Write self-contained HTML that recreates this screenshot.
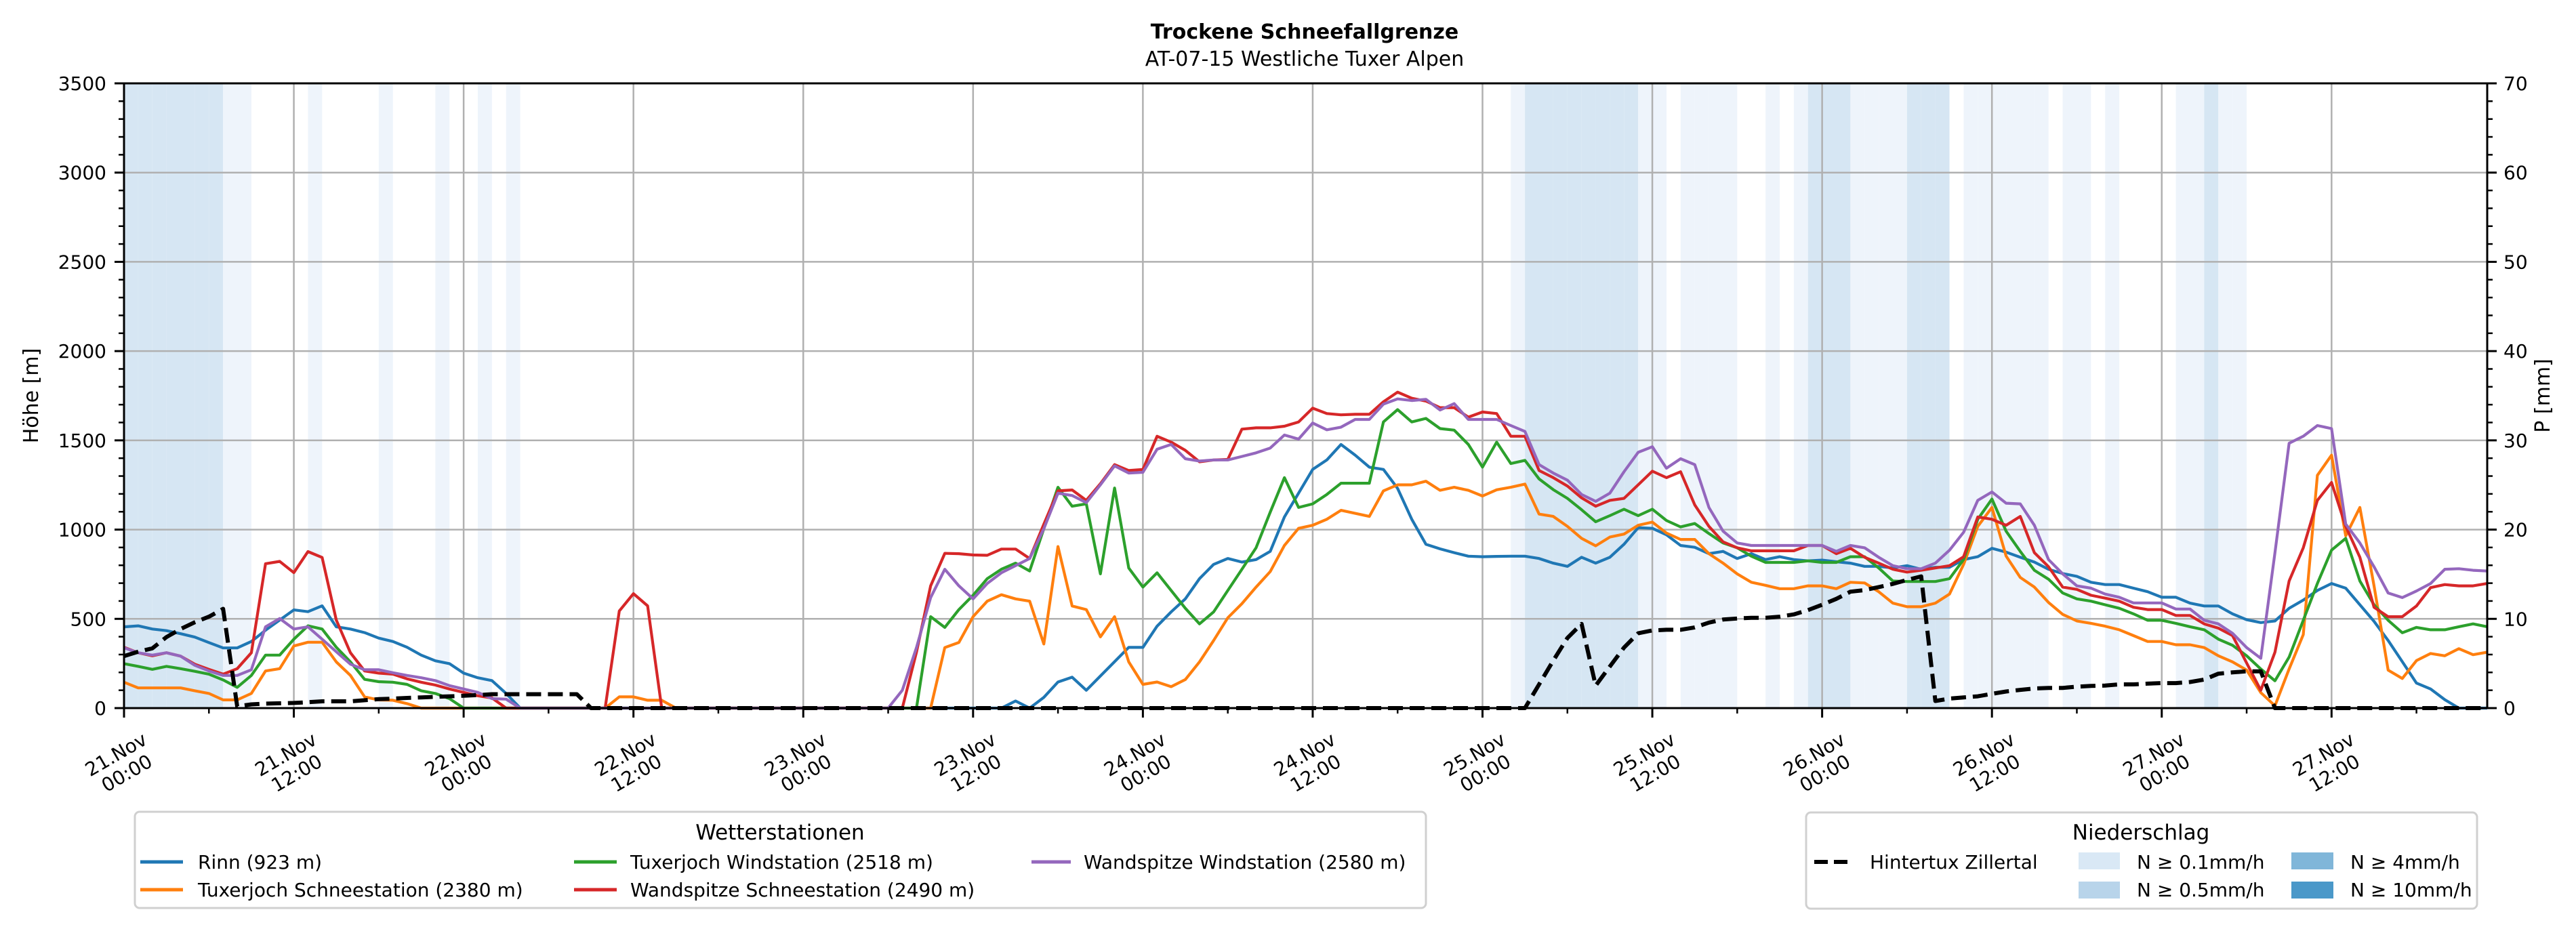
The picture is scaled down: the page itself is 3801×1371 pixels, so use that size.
<!DOCTYPE html>
<html><head><meta charset="utf-8"><style>
html,body{margin:0;padding:0;background:#fff;}
svg{display:block;font-family:"DejaVu Sans","Liberation Sans",sans-serif;}
</style></head><body>
<svg id="chart" width="3801" height="1371" viewBox="0 0 3801 1371" xmlns="http://www.w3.org/2000/svg">
<rect x="0" y="0" width="3801" height="1371" fill="#fff"/>
<text x="1925" y="57" text-anchor="middle" font-size="30" font-weight="bold">Trockene Schneefallgrenze</text>
<text x="1925" y="97" text-anchor="middle" font-size="30">AT-07-15 Westliche Tuxer Alpen</text>
<g id="bands"></g><g id="grid"></g><g id="series"></g><g id="axes"></g>
<text transform="translate(56,584) rotate(-90)" text-anchor="middle" font-size="30">Höhe [m]</text>
<text transform="translate(3762,584) rotate(-90)" text-anchor="middle" font-size="30">P [mm]</text>

<g>
<rect x="199" y="1198" width="1905" height="142" rx="7" fill="#fff" stroke="#d0d0d0" stroke-width="3"/>
<text x="1151" y="1239" text-anchor="middle" font-size="31">Wetterstationen</text>
<g font-size="28">
<line x1="207" y1="1272" x2="270" y2="1272" stroke="#1f77b4" stroke-width="5"/><text x="292" y="1282">Rinn (923 m)</text>
<line x1="207" y1="1313" x2="270" y2="1313" stroke="#ff7f0e" stroke-width="5"/><text x="292" y="1323">Tuxerjoch Schneestation (2380 m)</text>
<line x1="847" y1="1272" x2="910" y2="1272" stroke="#2ca02c" stroke-width="5"/><text x="930" y="1282">Tuxerjoch Windstation (2518 m)</text>
<line x1="847" y1="1313" x2="910" y2="1313" stroke="#d62728" stroke-width="5"/><text x="930" y="1323">Wandspitze Schneestation (2490 m)</text>
<line x1="1522" y1="1272" x2="1580" y2="1272" stroke="#9467bd" stroke-width="5"/><text x="1599" y="1282">Wandspitze Windstation (2580 m)</text>
</g></g>

<g>
<rect x="2665" y="1199" width="990" height="142" rx="7" fill="#fff" stroke="#d0d0d0" stroke-width="3"/>
<text x="3159" y="1239" text-anchor="middle" font-size="31">Niederschlag</text>
<g font-size="28">
<line x1="2677" y1="1272" x2="2734" y2="1272" stroke="#000" stroke-width="6" stroke-dasharray="20,9"/><text x="2759" y="1282">Hintertux Zillertal</text>
<rect x="3067" y="1258" width="61" height="25" fill="#d9e8f5"/><text x="3153" y="1282">N ≥ 0.1mm/h</text>
<rect x="3067" y="1301" width="61" height="25" fill="#b8d4ea"/><text x="3153" y="1323">N ≥ 0.5mm/h</text>
<rect x="3381" y="1258" width="62" height="25" fill="#80b6d9"/><text x="3468" y="1282">N ≥ 4mm/h</text>
<rect x="3381" y="1301" width="62" height="25" fill="#4a98c9"/><text x="3468" y="1323">N ≥ 10mm/h</text>
</g></g>
</svg>
<script>
// hourly data, index = hours since 21.Nov 00:00
const rinn = [
455,461,443,434,417,398,367,337,337,373,
436,493,550,540,573,455,443,423,392,373,
341,297,265,249,196,170,154,82,0,0,
0,0,0,0,0,0,0,0,0,0,
0,0,0,0,0,0,0,0,0,0,
0,0,0,0,0,0,0,0,0,0,
0,0,0,40,0,60,146,173,100,180,
260,340,340,459,539,612,725,805,838,818,
832,878,1071,1204,1337,1390,1477,1417,1350,1337,
1231,1058,918,892,871,851,848,850,851,851,
838,812,794,845,812,845,918,1011,1007,971,
911,901,865,878,838,865,832,848,832,825,
829,820,812,794,794,785,798,778,789,789,
832,848,895,874,845,818,778,754,738,705,
692,692,672,652,621,621,588,572,572,528,
495,479,488,559,605,659,698,672,579,486,
379,260,140,107,47,0,0,0];
const tuxSchnee = [
145,113,113,113,113,97,82,46,46,82,
208,221,348,369,369,259,183,63,46,44,
25,0,0,0,0,0,0,0,0,0,
0,0,0,0,0,63,63,44,44,0,
0,0,0,0,0,0,0,0,0,0,
0,0,0,0,0,0,0,0,339,368,
512,599,635,612,599,359,905,572,552,399,
512,259,133,146,120,160,259,379,506,585,
678,765,911,1007,1024,1058,1108,1091,1074,1217,
1251,1251,1271,1220,1237,1220,1188,1223,1237,1255,
1087,1074,1018,951,909,958,975,1024,1042,981,
945,945,865,812,752,705,688,669,669,685,
685,669,705,701,652,588,568,568,588,639,
805,1018,1124,852,732,678,592,525,488,475,
459,439,406,373,373,355,355,339,293,259,
213,87,13,219,412,1304,1417,965,1124,685,
213,166,266,306,293,333,299,313];
const tuxWind = [
249,234,217,234,221,206,190,158,116,183,
297,297,386,461,443,341,259,161,148,145,
133,97,82,53,0,0,0,0,0,0,
0,0,0,0,0,0,0,0,0,0,
0,0,0,0,0,0,0,0,0,0,
0,0,0,0,0,0,0,512,452,552,
632,725,778,812,768,1005,1237,1131,1144,752,
1233,785,678,758,659,559,472,539,659,778,
898,1098,1291,1124,1144,1197,1260,1260,1260,1603,
1672,1603,1623,1566,1557,1477,1350,1490,1370,1388,
1284,1224,1175,1111,1044,1078,1114,1078,1114,1051,
1015,1034,978,925,898,851,816,816,816,825,
816,816,848,848,785,712,709,709,709,725,
832,1058,1171,991,878,772,722,645,612,599,
579,559,528,492,492,475,456,439,386,352,
293,219,153,286,492,698,885,951,712,579,
492,422,452,439,439,456,472,456];
const wandSchnee = [
341,310,293,310,291,246,217,190,221,310,
809,822,759,877,844,493,310,208,196,190,
164,145,129,107,88,69,57,0,0,0,
0,0,0,0,0,544,641,573,0,0,
0,0,0,0,0,0,0,0,0,0,
0,0,0,0,0,0,313,685,867,865,
858,856,891,891,838,1030,1217,1222,1164,1257,
1364,1331,1337,1523,1490,1444,1380,1390,1393,1563,
1570,1570,1579,1603,1680,1650,1643,1646,1646,1716,
1770,1736,1720,1683,1683,1630,1659,1650,1523,1523,
1331,1291,1244,1178,1131,1164,1175,1251,1327,1291,
1324,1138,1018,931,898,881,881,881,881,911,
911,865,895,845,812,778,762,772,785,798,
848,1071,1058,1024,1074,871,792,678,665,632,
616,599,565,552,552,519,519,472,448,406,
253,100,313,712,898,1164,1264,1018,845,565,
512,512,572,675,692,685,685,698];
const wandWind = [
338,310,297,310,291,240,208,183,183,215,
455,502,443,455,386,316,246,215,215,198,
183,170,154,126,107,88,53,50,0,0,
0,0,0,0,0,0,0,0,0,0,
0,0,0,0,0,0,0,0,0,0,
0,0,0,0,0,100,339,619,778,685,
612,698,758,798,838,1005,1204,1191,1151,1251,
1357,1317,1321,1450,1477,1397,1384,1390,1390,1410,
1430,1457,1530,1507,1597,1559,1574,1617,1617,1703,
1732,1723,1730,1670,1706,1617,1617,1617,1583,1550,
1364,1317,1277,1197,1158,1204,1324,1433,1464,1344,
1397,1364,1124,991,925,911,911,911,911,911,
911,878,911,898,845,798,781,781,812,885,
985,1164,1211,1148,1144,1024,832,752,685,672,
639,621,589,589,589,555,555,492,472,419,
339,279,871,1484,1523,1583,1566,1031,925,792,
645,619,656,698,778,781,772,768];
const hintertux = [
291,316,335,398,443,481,512,556,10,21,
25,27,29,33,38,38,38,44,50,53,
57,60,63,66,69,73,78,78,78,78,
78,78,78,0,0,0,0,0,0,0,
0,0,0,0,0,0,0,0,0,0,
0,0,0,0,0,0,0,0,0,0,
0,0,0,0,0,0,0,0,0,0,
0,0,0,0,0,0,0,0,0,0,
0,0,0,0,0,0,0,0,0,0,
0,0,0,0,0,0,0,0,0,0,
133,266,393,472,126,233,339,419,435,439,
439,452,479,496,502,506,506,512,525,549,
579,612,652,661,678,696,718,738,40,53,
60,66,80,93,102,110,113,113,120,124,
126,133,133,137,140,140,146,160,193,200,
206,206,0,0,0,0,0,0,0,0,
0,0,0,0,0,0,0,0];
const precip = [
1,1,1,1,1,1,1,0.3,0.3,0,
0,0,0,0.3,0,0,0,0,0.3,0,
0,0,0.3,0,0,0.3,0,0.3,0,0,
0,0,0,0,0,0,0,0,0,0,
0,0,0,0,0,0,0,0,0,0,
0,0,0,0,0,0,0,0,0,0,
0,0,0,0,0,0,0,0,0,0,
0,0,0,0,0,0,0,0,0,0,
0,0,0,0,0,0,0,0,0,0,
0,0,0,0,0,0,0,0,0.3,1,
1,1,1,1,1,1,1,0.3,0.3,0,
0.3,0.3,0.3,0.3,0,0,0.3,0,0.3,1,
1,1,0.3,0.3,0.3,0.3,1,1,1,0,
0.3,0.3,0.3,0.3,0.3,0.3,0,0.3,0.3,0,
0.3,0,0,0,0,0.3,0.3,1,0.3,0.3,
0,0,0,0,0,0,0,0,0,0,
0,0,0,0,0,0,0,0];
const dayLabels = ["21.Nov","21.Nov","22.Nov","22.Nov","23.Nov","23.Nov","24.Nov","24.Nov","25.Nov","25.Nov","26.Nov","26.Nov","27.Nov","27.Nov"];
const timeLabels = ["00:00","12:00","00:00","12:00","00:00","12:00","00:00","12:00","00:00","12:00","00:00","12:00","00:00","12:00"];
const yTicks = [0,500,1000,1500,2000,2500,3000,3500];
const pTicks = [0,10,20,30,40,50,60,70];

const L=183,R=3670,T=123,B=1045,HMAX=167,YMAX=3500,PMAX=70;
const X=h=>L+(R-L)*h/HMAX;
const Y=m=>B-(B-T)*m/YMAX;
const YP=p=>B-(B-T)*p/PMAX;
const NS="http://www.w3.org/2000/svg";
function mk(tag,attrs,parent){const e=document.createElementNS(NS,tag);for(const k in attrs)e.setAttribute(k,attrs[k]);parent.appendChild(e);return e;}
const gB=document.getElementById('bands'),gG=document.getElementById('grid'),gS=document.getElementById('series'),gA=document.getElementById('axes');

precip.forEach((p,h)=>{
  if(p<0.1) return;
  const col = p>=10?'#4a98c9':p>=4?'#80b6d9':p>=0.5?'#d6e6f3':'#eef4fb';
  const r=mk('rect',{x:X(h),y:T,width:X(h+1)-X(h),height:B-T,fill:col},gB);
  
  
});
for(let k=0;k*12<=HMAX;k++){
  const l=mk('line',{x1:X(k*12),x2:X(k*12),y1:T,y2:B,stroke:'#b0b0b0','stroke-width':2.5},gG);
  
  
}
yTicks.forEach(v=>{
  const l=mk('line',{x1:L,x2:R,y1:Y(v),y2:Y(v),stroke:'#b0b0b0','stroke-width':2.5},gG);
  
  
});
function line(arr,color,name,dash){
  const pts=arr.map((v,h)=>X(h).toFixed(1)+','+Y(v).toFixed(1)).join(' ');
  const a={points:pts,fill:'none',stroke:color,'stroke-width':dash?6:4.2,'stroke-linejoin':'round'};
  if(dash)a['stroke-dasharray']='22,10';
  const p=mk('polyline',a,gS);
  
  
}
line(rinn,'#1f77b4','series-rinn');
line(tuxSchnee,'#ff7f0e','series-tuxerjoch-schnee');
line(tuxWind,'#2ca02c','series-tuxerjoch-wind');
line(wandSchnee,'#d62728','series-wandspitze-schnee');
line(wandWind,'#9467bd','series-wandspitze-wind');
line(hintertux,'#000','series-hintertux',true);

const fr=mk('rect',{x:L,y:T,width:R-L,height:B-T,fill:'none',stroke:'#000','stroke-width':3},gA);


for(let m=0;m<=YMAX;m+=100){
  const major=m%500===0;
  mk('line',{x1:L-(major?14:8),x2:L,y1:Y(m),y2:Y(m),stroke:'#000','stroke-width':major?3:2.5},gA);
}
yTicks.forEach(v=>{
  const t=mk('text',{x:L-26,y:Y(v)+10,'text-anchor':'end','font-size':28},gA);
  t.textContent=v;
  
  
});
for(let p=0;p<=PMAX;p+=2){
  const major=p%10===0;
  mk('line',{x1:R,x2:R+(major?14:8),y1:YP(p),y2:YP(p),stroke:'#000','stroke-width':major?3:2.5},gA);
}
pTicks.forEach(v=>{
  const t=mk('text',{x:R+24,y:YP(v)+10,'text-anchor':'start','font-size':28},gA);
  t.textContent=v;
  
  
});
for(let h=0;h<=HMAX;h+=6){
  const major=h%12===0;
  mk('line',{x1:X(h),x2:X(h),y1:B,y2:B+(major?14:8),stroke:'#000','stroke-width':major?3:2.5},gA);
}
dayLabels.forEach((d,i)=>{
  const cx=X(i*12)-4, cy=1127;
  const t=mk('text',{transform:`translate(${cx},${cy}) rotate(-30)`,'text-anchor':'middle','font-size':28},gA);
  
  
  const s1=mk('tspan',{x:0,y:-6},t); s1.textContent=d;
  const s2=mk('tspan',{x:0,y:26},t); s2.textContent=timeLabels[i];
});
</script>
</body></html>
